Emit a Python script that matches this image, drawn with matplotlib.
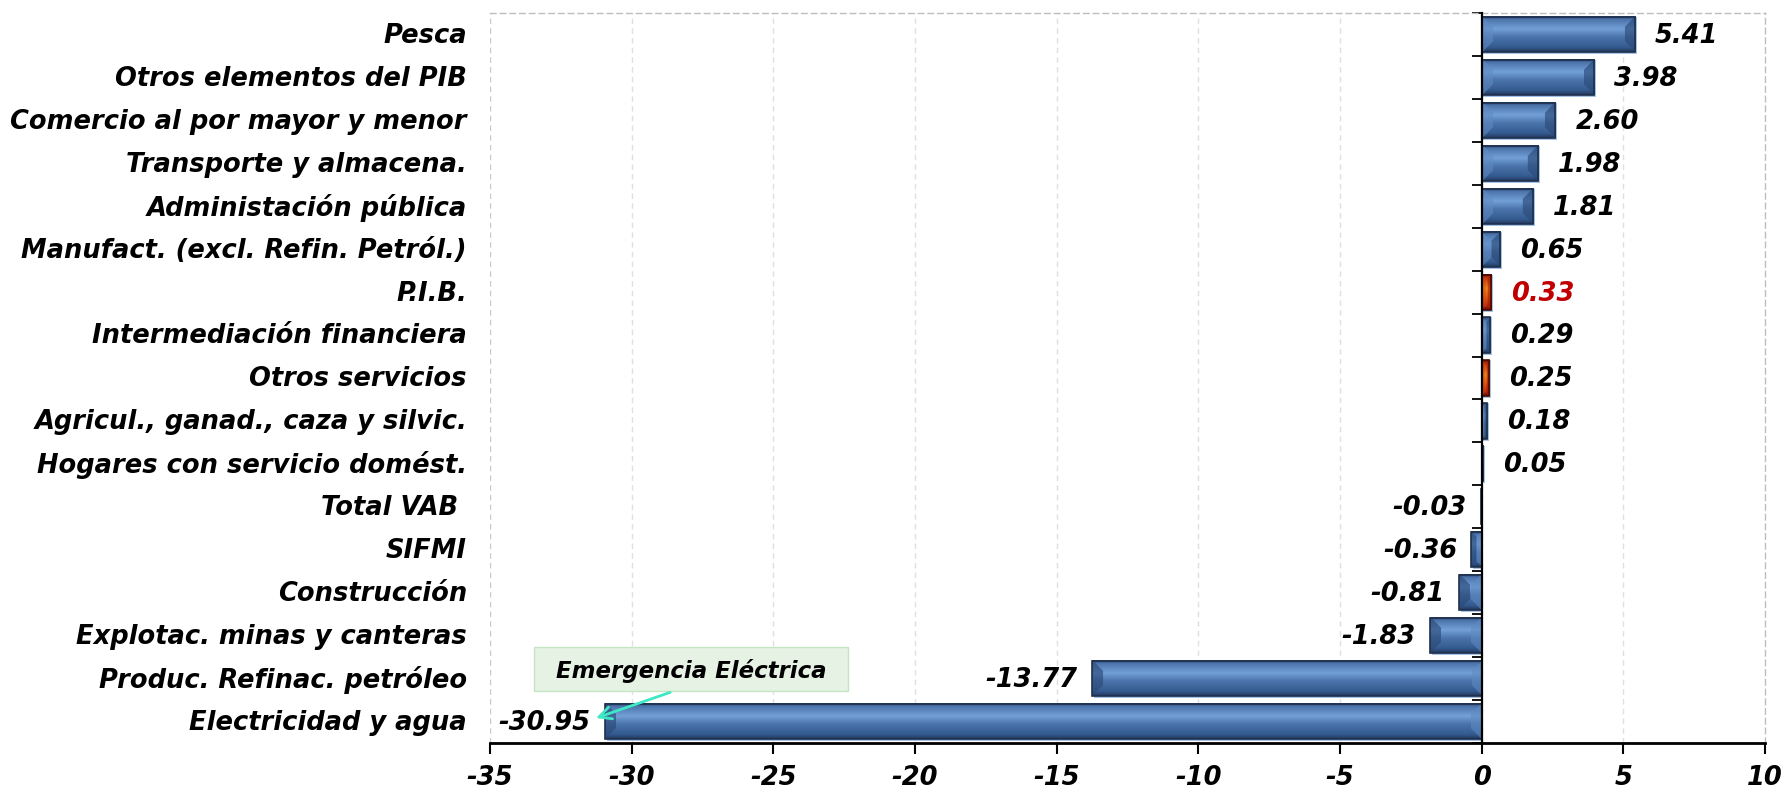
import numpy as np
import matplotlib
matplotlib.use("Agg")
import matplotlib.pyplot as plt
from matplotlib.patches import Rectangle
from matplotlib.colors import to_rgb

# Contribution to GDP growth by sector (percentage points), bottom to top
categories = [
    "Electricidad y agua",
    "Produc. Refinac. petróleo",
    "Explotac. minas y canteras",
    "Construcción",
    "SIFMI",
    "Total VAB ",
    "Hogares con servicio domést.",
    "Agricul., ganad., caza y silvic.",
    "Otros servicios",
    "Intermediación financiera",
    "P.I.B.",
    "Manufact. (excl. Refin. Petról.)",
    "Administación pública",
    "Transporte y almacena.",
    "Comercio al por mayor y menor",
    "Otros elementos del PIB",
    "Pesca",
]
values = [-30.95, -13.77, -1.83, -0.81, -0.36, -0.03, 0.05, 0.18, 0.25,
          0.29, 0.33, 0.65, 1.81, 1.98, 2.60, 3.98, 5.41]
highlight = ["Otros servicios", "P.I.B."]
label_red = ["P.I.B."]
x_ticks = [-35, -30, -25, -20, -15, -10, -5, 0, 5, 10]
note_text = "Emergencia Eléctrica"

FONT = "DejaVu Sans"
FS = 18.5
W, H, DPI = 1788, 793, 100
fig = plt.figure(figsize=(W / DPI, H / DPI), dpi=DPI)
ax = fig.add_axes([490 / W, 1 - 743 / H, (1765 - 490) / W, (743 - 13) / H])
ax.set_xlim(x_ticks[0], x_ticks[-1])
ax.set_ylim(-0.5, len(categories) - 0.5)

BAR_H = 0.82

# vertical shading profile (position from top, colour) and end-cap colours
BLUE = dict(edge="#1f304d",
            profile=[(0.0, "#2a4268"), (0.10, "#4d75ac"), (0.36, "#73a0d8"),
                     (0.58, "#4a74ab"), (0.86, "#355c91"), (1.0, "#22375a")],
            left="#5f8bc4", right="#2b4a78")
RED = dict(edge="#4a0a00",
           profile=[(0.0, "#6a1000"), (0.12, "#c83a10"), (0.40, "#f7a020"),
                    (0.62, "#e86a10"), (0.88, "#b82410"), (1.0, "#5a0a00")],
           left="#d04010", right="#a01808")


def bevel_image(w_px, h_px, pal, bevel=11.0):
    nx = max(int(round(w_px)), 2)
    ny = max(int(round(h_px)), 2)
    xx = (np.arange(nx) + 0.5)[None, :] * (w_px / nx) * np.ones((ny, 1))
    yy = (np.arange(ny) + 0.5)[:, None] * (h_px / ny) * np.ones((1, nx))
    pos = [p for p, _ in pal["profile"]]
    cols = np.array([to_rgb(c) for _, c in pal["profile"]])
    tv = yy[:, 0] / h_px
    prof = np.stack([np.interp(tv, pos, cols[:, k]) for k in range(3)], axis=1)
    img = np.repeat(prof[:, None, :], nx, axis=1)
    b = min(bevel, w_px / 2.0)
    dl, dr = xx, w_px - xx
    dv = np.minimum(yy, h_px - yy)
    left_face = (dl < b) & (dl < dv) & (dl <= dr)
    right_face = (dr < b) & (dr < dv) & (dr < dl)
    img[left_face] = 0.45 * img[left_face] + 0.55 * np.array(to_rgb(pal["left"]))
    img[right_face] = 0.35 * img[right_face] + 0.65 * np.array(to_rgb(pal["right"]))
    return img


px_per_x = ax.transData.transform((1, 0))[0] - ax.transData.transform((0, 0))[0]
px_per_y = ax.transData.transform((0, 1))[1] - ax.transData.transform((0, 0))[1]

bars = ax.barh(range(len(values)), values, height=BAR_H, color="none",
               edgecolor="none", zorder=3)
for i, (bar, cat, v) in enumerate(zip(bars, categories, values)):
    x0, y0 = bar.get_x(), bar.get_y()
    w, h = bar.get_width(), bar.get_height()
    # soft light-blue halo behind each bar
    sx, sy = 2.0 / px_per_x, 2.0 / px_per_y
    ax.add_patch(Rectangle((x0 - sx * 0.5, y0 - sy), w + sx * 1.5, h + sy,
                           facecolor="#a4c2e6", edgecolor="none", zorder=2))
    pal = RED if cat in highlight else BLUE
    img = bevel_image(abs(w) * px_per_x, h * px_per_y, pal)
    ax.imshow(img, extent=(x0, x0 + w, y0, y0 + h), aspect="auto",
              interpolation="bilinear", zorder=3)
    ax.add_patch(Rectangle((x0, y0), w, h, facecolor="none",
                           edgecolor=pal["edge"], linewidth=1.2, zorder=4))

# value labels
for i, v in enumerate(values):
    col = "#c00000" if categories[i] in label_red else "black"
    off = 20 if v >= 0 else -14
    ax.annotate(f"{v:.2f}", xy=(v, i), xytext=(off / DPI * 72, -1),
                textcoords="offset points", ha="left" if v >= 0 else "right",
                va="center", fontsize=FS, fontweight="bold", fontstyle="italic",
                family=FONT, color=col, zorder=6)

# category labels to the left of the plot area
for i, cat in enumerate(categories):
    ax.annotate(cat, xy=(x_ticks[0], i), xytext=(-23 / DPI * 72, -1),
                textcoords="offset points", ha="right", va="center",
                fontsize=FS, fontweight="bold", fontstyle="italic",
                family=FONT, color="black", annotation_clip=False)

# axes styling
ax.set_xticks(x_ticks)
ax.set_xticklabels([str(t) for t in x_ticks], fontsize=FS, fontweight="bold",
                   fontstyle="italic", family=FONT)
ax.tick_params(axis="x", direction="out", length=8, width=1.5, pad=8,
               color="black")
ax.set_yticks(np.arange(len(categories) + 1) - 0.5)
ax.set_yticklabels([])
ax.tick_params(axis="y", direction="out", length=7, width=1.3, color="black")
ax.spines["left"].set_position(("data", 0))
ax.spines["left"].set_linewidth(1.6)
ax.spines["left"].set_zorder(5)
ax.spines["bottom"].set_linewidth(2.0)
for s in ("top", "right"):
    ax.spines[s].set_linestyle((0, (4, 3)))
    ax.spines[s].set_color("#bdbdbd")
    ax.spines[s].set_linewidth(1.0)
for t in x_ticks[:-1]:
    ax.axvline(t, color="#e0e0e0" if t != x_ticks[0] else "#c8c8c8",
               linestyle=(0, (4, 3)), linewidth=1.0, zorder=1)

# note pointing at the electricity bar
ax.add_patch(Rectangle((-33.45, 0.70), 11.1, 1.045, facecolor="#e6f2e4",
                       edgecolor="#c6e3c4", linewidth=1.0, zorder=6))
ax.text(-27.9, 1.17, note_text, ha="center", va="center", fontsize=16.5,
        fontweight="bold", fontstyle="italic", family=FONT, zorder=7)
ax.annotate("", xy=(-31.35, 0.06), xytext=(-28.55, 0.70),
            arrowprops=dict(arrowstyle="->", color="#3ee8c4", lw=2.0,
                            mutation_scale=22), zorder=7)

fig.savefig("out.png", dpi=DPI)
